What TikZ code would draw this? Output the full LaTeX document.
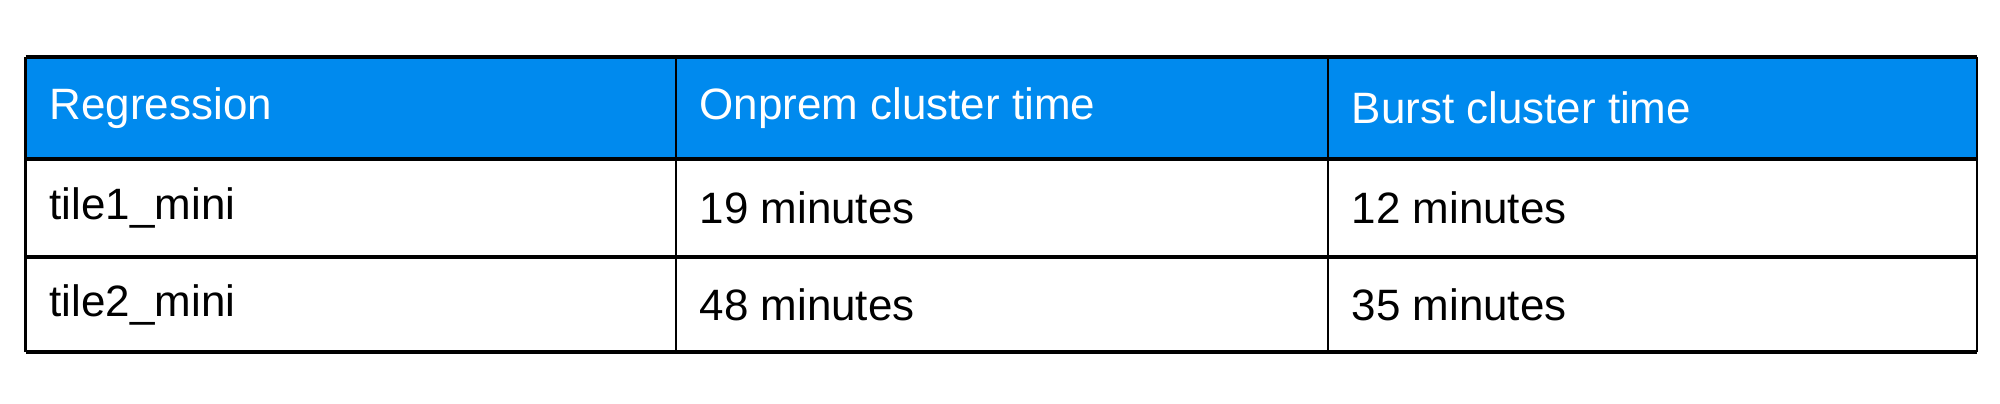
\documentclass[tikz,border=0pt]{standalone}
\usepackage{fontspec}
\setmainfont{Liberation Sans}
\usetikzlibrary{positioning}
\definecolor{headblue}{RGB}{0,138,238}

\begin{document}
\begin{tikzpicture}
  \tikzstyle{cell}=[anchor=west, inner sep=0pt, font=\fontsize{12.5}{14}\selectfont]
  \tikzstyle{headcell}=[cell, text=white]
  \tikzstyle{hrule}=[line width=1.2pt]
  \tikzstyle{vrule}=[line width=0.6pt]
  \useasboundingbox (0,0) rectangle (20,4.03);
  \fill[headblue] (0.255,2.44) rectangle (19.77,3.46);

  \coordinate (tl) at (0.255,3.46);
  \coordinate (tr) at (19.77,3.46);
  \coordinate (hl) at (0.255,2.44);
  \coordinate (hr) at (19.77,2.44);
  \coordinate (ml) at (0.255,1.46);
  \coordinate (mr) at (19.77,1.46);
  \coordinate (bl) at (0.255,0.51);
  \coordinate (br) at (19.77,0.51);
  \coordinate (c1t) at (6.76,3.46);
  \coordinate (c1b) at (6.76,0.51);
  \coordinate (c2t) at (13.28,3.46);
  \coordinate (c2b) at (13.28,0.51);

  \node[headcell] (H_1) at (0.49,2.95)  {Regression};
  \node[headcell] (H_2) at (6.99,2.95)  {Onprem cluster time};
  \node[headcell] (H_3) at (13.51,2.95) {Burst cluster time};
  \node[cell] (R1_1) at (0.49,1.95)  {tile1\_mini};
  \node[cell] (R1_2) at (6.99,1.95)  {19 minutes};
  \node[cell] (R1_3) at (13.51,1.95) {12 minutes};
  \node[cell] (R2_1) at (0.49,0.98)  {tile2\_mini};
  \node[cell] (R2_2) at (6.99,0.98)  {48 minutes};
  \node[cell] (R2_3) at (13.51,0.98) {35 minutes};

  \draw[hrule] (tl) -- (tr);
  \draw[hrule] (hl) -- (hr);
  \draw[hrule] (ml) -- (mr);
  \draw[hrule] (bl) -- (br);
  \draw[vrule] (tl) -- (bl);
  \draw[vrule] (c1t) -- (c1b);
  \draw[vrule] (c2t) -- (c2b);
  \draw[vrule] (tr) -- (br);
\end{tikzpicture}
\end{document}
